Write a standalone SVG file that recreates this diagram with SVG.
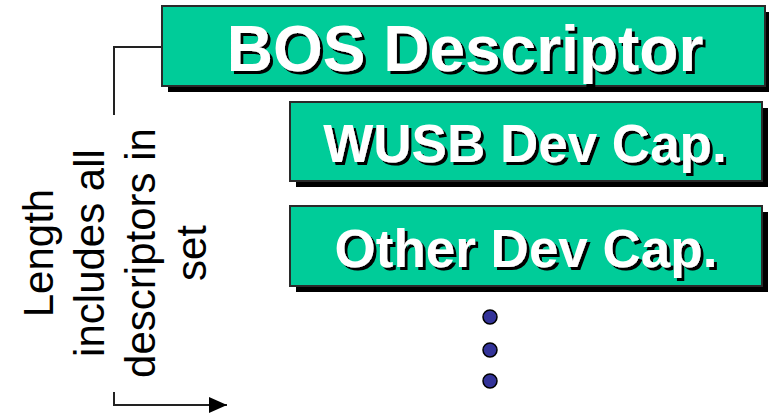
<svg xmlns="http://www.w3.org/2000/svg" width="769" height="417" viewBox="0 0 769 417">
  <style>
    .shadow { fill: #000000; }
    .box { fill: #00CC99; stroke: #2a2a2a; stroke-width: 2; }
    .title { font-family: "Liberation Sans", Arial, sans-serif; font-weight: bold; text-anchor: middle; fill: #ffffff; filter: url(#text-shadow); }
    .note { font-family: "Liberation Sans", Arial, sans-serif; font-size: 42px; fill: #000000; text-anchor: middle; }
    .link { fill: none; stroke: #222222; stroke-width: 2; }
    .dot { fill: #333399; stroke: #000000; stroke-width: 1.5; }
  </style>
  <defs>
    <!-- hard black drop shadow behind the white titles -->
    <filter id="text-shadow" x="-5%" y="-20%" width="110%" height="140%">
      <feOffset in="SourceAlpha" dx="3" dy="3" result="off"/>
      <feFlood flood-color="#000000"/>
      <feComposite in2="off" operator="in" result="shade"/>
      <feMerge>
        <feMergeNode in="shade"/>
        <feMergeNode in="SourceGraphic"/>
      </feMerge>
    </filter>
    <marker id="arrow" markerWidth="20" markerHeight="18" refX="18" refY="8" orient="auto" markerUnits="userSpaceOnUse">
      <path d="M0,0 L18,8 L0,16 Z" fill="#000000"/>
    </marker>
  </defs>

  <rect width="769" height="417" fill="#ffffff"/>

  <!-- bracket showing the total length -->
  <g id="connectors">
    <path class="link" d="M162,47 H114 V115"/>
    <path class="link" d="M114,392 V405 H227" marker-end="url(#arrow)"/>
  </g>

  <g id="bos-descriptor">
    <rect class="shadow" x="168" y="12" width="603" height="80"/>
    <rect class="box" x="162" y="6" width="603" height="80"/>
    <text class="title" x="465" y="71" font-size="64">BOS Descriptor</text>
  </g>

  <g id="wusb-dev-cap">
    <rect class="shadow" x="296" y="108" width="472" height="79"/>
    <rect class="box" x="290" y="102" width="472" height="79"/>
    <text class="title" x="525" y="162" font-size="53">WUSB Dev Cap.</text>
  </g>

  <g id="other-dev-cap">
    <rect class="shadow" x="296" y="212" width="472" height="80"/>
    <rect class="box" x="290" y="206" width="472" height="80"/>
    <text class="title" x="526" y="267" font-size="53">Other Dev Cap.</text>
  </g>

  <g id="more">
    <circle class="dot" cx="490" cy="317" r="7"/>
    <circle class="dot" cx="490" cy="350" r="7"/>
    <circle class="dot" cx="490" cy="381" r="7"/>
  </g>

  <g id="length-note">
    <text class="note" transform="translate(53,253) rotate(-90)">Length</text>
    <text class="note" transform="translate(104,253) rotate(-90)">includes all</text>
    <text class="note" transform="translate(155,253) rotate(-90)">descriptors in</text>
    <text class="note" transform="translate(206,253) rotate(-90)">set</text>
  </g>
</svg>
